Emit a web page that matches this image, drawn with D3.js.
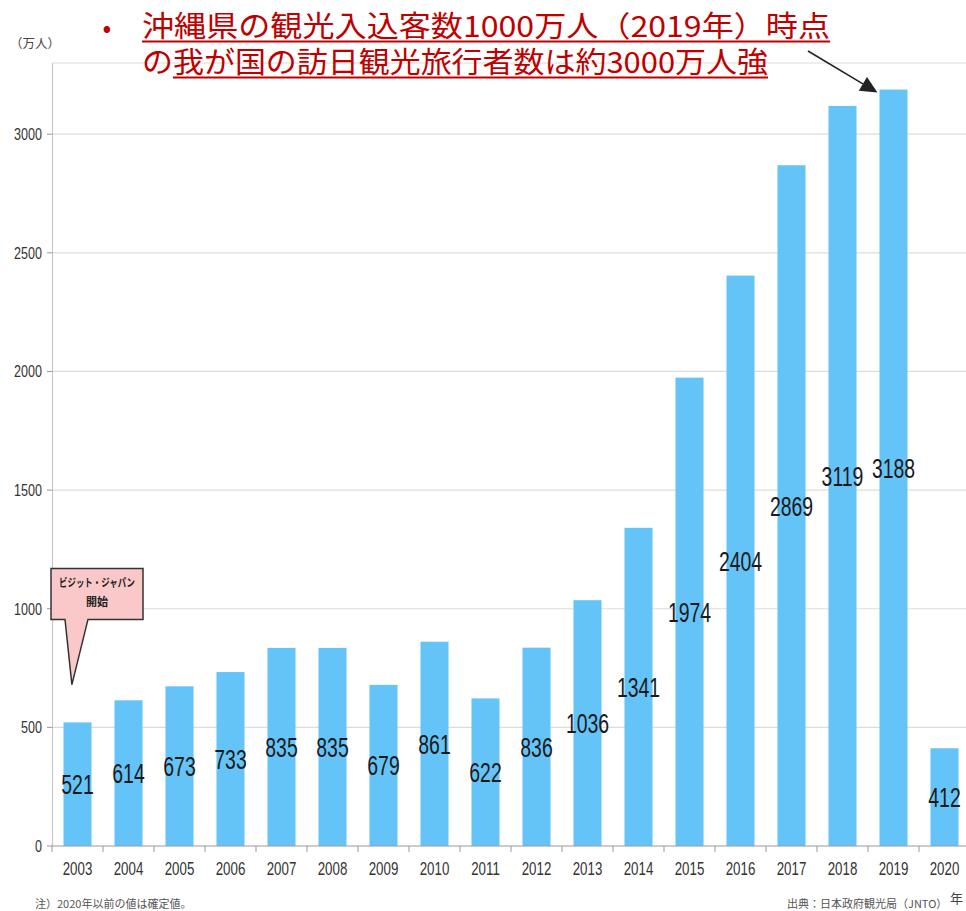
<!DOCTYPE html>
<html>
<head>
<meta charset="utf-8">
<script src="https://cdn.jsdelivr.net/npm/d3@7"></script>
<style>
  body { margin: 0; background: #fff; }
  svg { display: block; }
</style>
</head>
<body>
<svg id="chart" width="966" height="911"></svg>
<script>
// data
var years = ["2003","2004","2005","2006","2007","2008","2009","2010","2011","2012",
             "2013","2014","2015","2016","2017","2018","2019","2020"];
var visitors = [521, 614, 673, 733, 835, 835, 679, 861, 622, 836,
                1036, 1341, 1974, 2404, 2869, 3119, 3188, 412];
var yTicks = [0, 500, 1000, 1500, 2000, 2500, 3000];
var titleLines = ["沖縄県の観光入込客数1000万人（2019年）時点",
                  "の我が国の訪日観光旅行者数は約3000万人強"];
var calloutLines = ["ビジット・ジャパン", "開始"];
var unitLabel = "（万人）";
var yearUnit = "年";
var noteText = "注）2020年以前の値は確定値。";
var sourceText = "出典：日本政府観光局（JNTO）";

var svg = d3.select("#chart");
var condensed = "'Liberation Sans', Arial, sans-serif";
var jp = "'Noto Sans CJK JP', sans-serif";
var squeeze = 0.74;

var x = d3.scaleBand().domain(years).range([52, 970])
    .paddingInner(0.45).paddingOuter(0.225);
var y = d3.scaleLinear().domain([0, 3300]).range([846, 63]);
var gap = x.step() - x.bandwidth();

// grid + frame
svg.append("g").selectAll("line")
  .data(yTicks.filter(function(d){ return d > 0; }).concat([3300]))
  .enter().append("line")
  .attr("x1", x.range()[0]).attr("x2", 966)
  .attr("y1", function(d){ return y(d); }).attr("y2", function(d){ return y(d); })
  .attr("stroke", "#dcdcdc").attr("stroke-width", 1.2);

svg.append("line")
  .attr("x1", 52.5).attr("x2", 52.5).attr("y1", y(3300)).attr("y2", y(0))
  .attr("stroke", "#c8c8c8").attr("stroke-width", 1.2);

// y ticks + labels
var yg = svg.append("g");
yg.selectAll("line").data(yTicks).enter().append("line")
  .attr("x1", 47).attr("x2", 52.5)
  .attr("y1", function(d){ return y(d); }).attr("y2", function(d){ return y(d); })
  .attr("stroke", "#999");
yg.selectAll("text").data(yTicks).enter().append("text")
  .attr("transform", function(d){ return "translate(42," + (y(d) + 6) + ") scale(" + squeeze + ",1)"; })
  .attr("text-anchor", "end")
  .attr("font-family", condensed).attr("font-size", 17).attr("fill", "#333")
  .text(function(d){ return d; });

// bars
svg.append("g").selectAll("rect")
  .data(visitors).enter().append("rect")
  .attr("x", function(d, i){ return x(years[i]); })
  .attr("y", function(d){ return y(d); })
  .attr("width", x.bandwidth())
  .attr("height", function(d){ return y(0) - y(d); })
  .attr("fill", "#64c4f8");

// x axis
svg.append("line")
  .attr("x1", 52).attr("x2", 966).attr("y1", y(0)).attr("y2", y(0))
  .attr("stroke", "#999").attr("stroke-width", 1.2);
var xg = svg.append("g");
xg.selectAll("line").data(years).enter().append("line")
  .attr("x1", function(d){ return x(d) - gap / 2; })
  .attr("x2", function(d){ return x(d) - gap / 2; })
  .attr("y1", y(0)).attr("y2", y(0) + 6)
  .attr("stroke", "#999");
xg.selectAll("text").data(years).enter().append("text")
  .attr("transform", function(d){ return "translate(" + (x(d) + x.bandwidth() / 2) + "," + (y(0) + 29) + ") scale(" + squeeze + ",1)"; })
  .attr("text-anchor", "middle")
  .attr("font-family", condensed).attr("font-size", 18).attr("fill", "#333")
  .text(function(d){ return d; });

// value labels in the middle of each bar
svg.append("g").selectAll("text")
  .data(visitors).enter().append("text")
  .attr("transform", function(d, i){
      return "translate(" + (x(years[i]) + x.bandwidth() / 2) + "," + (y(d / 2) + 10) + ") scale(0.72,1)";
  })
  .attr("text-anchor", "middle")
  .attr("font-family", condensed).attr("font-size", 27).attr("fill", "#1a1a1a")
  .text(function(d){ return d; });

// unit label
svg.append("text")
  .attr("x", 10).attr("y", 48)
  .attr("font-family", jp).attr("font-size", 12.5).attr("fill", "#444")
  .text(unitLabel);

// callout "Visit Japan"
var bx0 = 51, bx1 = 143, by0 = y(1170), by1 = y(955);
var tipX = x(years[0]) + x.bandwidth() * 0.3, tipY = y(680);
svg.append("path")
  .attr("d", "M" + bx0 + "," + by0 + "H" + bx1 + "V" + by1 + "H88L" + tipX + "," + tipY + "L65," + by1 + "H" + bx0 + "Z")
  .attr("fill", "#fac8c8").attr("stroke", "#333").attr("stroke-width", 1.5);
var cw = [76, 22];
svg.append("g").selectAll("text")
  .data(calloutLines).enter().append("text")
  .attr("x", function(d, i){ return (bx0 + bx1) / 2 - cw[i] / 2; })
  .attr("y", function(d, i){ return by0 + 19 + i * 19; })
  .attr("textLength", function(d, i){ return cw[i]; })
  .attr("lengthAdjust", "spacingAndGlyphs")
  .attr("font-family", jp).attr("font-size", 11).attr("font-weight", "bold").attr("fill", "#222")
  .text(function(d){ return d; });

// headline (one text element, one tspan per line)
var red = "#c00000";
svg.append("text")
  .attr("x", 107).attr("y", 37)
  .attr("text-anchor", "middle")
  .attr("font-family", jp).attr("font-size", 26).attr("fill", red)
  .text("•");
var lineEnds = [830, 768];
var lineBase = [37, 73];
var head = svg.append("text")
  .attr("font-family", jp).attr("font-size", 29).attr("fill", red);
head.selectAll("tspan").data(titleLines).enter().append("tspan")
  .attr("x", 142)
  .attr("y", function(d, i){ return lineBase[i]; })
  .attr("textLength", function(d, i){ return lineEnds[i] - 142; })
  .attr("lengthAdjust", "spacingAndGlyphs")
  .text(function(d){ return d; });
var secondStart = 167;
try { secondStart = head.node().getStartPositionOfChar(titleLines[0].length + 1).x; } catch (e) {}
if (!(secondStart > 150 && secondStart < 190)) secondStart = 167;
var ulStart = [142, secondStart];
svg.append("g").selectAll("line")
  .data(titleLines).enter().append("line")
  .attr("x1", function(d, i){ return ulStart[i]; })
  .attr("x2", function(d, i){ return lineEnds[i]; })
  .attr("y1", function(d, i){ return lineBase[i] + 4.5; })
  .attr("y2", function(d, i){ return lineBase[i] + 4.5; })
  .attr("stroke", red).attr("stroke-width", 1.8);

// arrow to the 2019 bar
var ax0 = 808, ay0 = 51;
var ax1 = x("2019") - 2, ay1 = y(visitors[16]) + 3;
var ang = Math.atan2(ay1 - ay0, ax1 - ax0);
var hl = 17, hw = 8;
var bxh = ax1 - hl * Math.cos(ang), byh = ay1 - hl * Math.sin(ang);
svg.append("line")
  .attr("x1", ax0).attr("y1", ay0).attr("x2", bxh).attr("y2", byh)
  .attr("stroke", "#222").attr("stroke-width", 1.6);
svg.append("polygon")
  .attr("points", [
    [ax1, ay1],
    [bxh + hw * Math.sin(ang), byh - hw * Math.cos(ang)],
    [bxh - hw * Math.sin(ang), byh + hw * Math.cos(ang)]
  ].map(function(p){ return p.join(","); }).join(" "))
  .attr("fill", "#222");

// footnotes
svg.append("text")
  .attr("x", 35).attr("y", 908)
  .attr("font-family", jp).attr("font-size", 11).attr("fill", "#555")
  .text(noteText);
svg.append("text")
  .attr("x", 787).attr("y", 908)
  .attr("font-family", jp).attr("font-size", 11).attr("fill", "#555")
  .text(sourceText);
svg.append("text")
  .attr("x", 950).attr("y", 903)
  .attr("font-family", jp).attr("font-size", 13).attr("fill", "#444")
  .text(yearUnit);
</script>
</body>
</html>
